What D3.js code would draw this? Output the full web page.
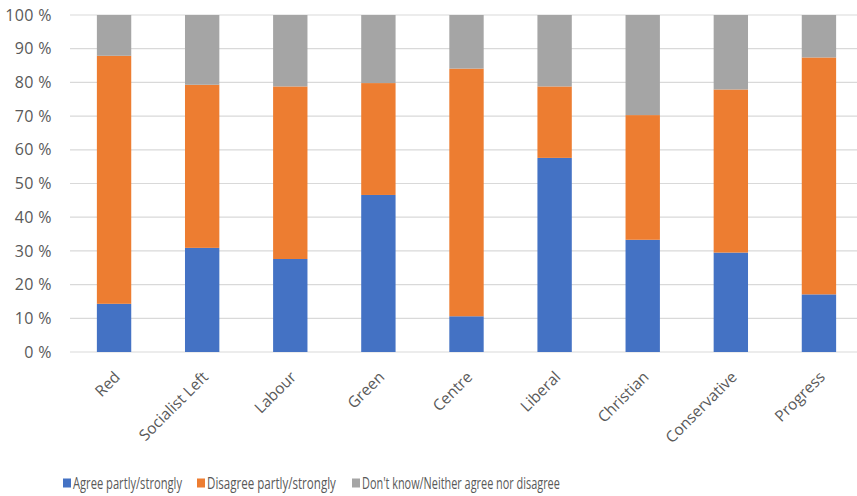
<!DOCTYPE html>
<html>
<head>
<meta charset="utf-8">
<script src="https://cdn.jsdelivr.net/npm/d3@7"></script>
<style>
  html, body { margin: 0; padding: 0; background: #fff; }
  svg { display: block; font-family: "Open Sans", "Noto Sans", sans-serif; }
</style>
</head>
<body>
<svg id="chart" width="857" height="496"></svg>
<script>
// Party names along the x axis
const parties = ["Red", "Socialist Left", "Labour", "Green", "Centre", "Liberal", "Christian", "Conservative", "Progress"];

// Response shares per party (percent)
const agree    = [14.3, 30.9, 27.6, 46.6, 10.6, 57.6, 33.3, 29.5, 17.1];
const disagree = [73.6, 48.4, 51.2, 33.2, 73.5, 21.2, 37.0, 48.4, 70.3];
const dontKnow = [12.1, 20.7, 21.2, 20.2, 15.9, 21.2, 29.7, 22.1, 12.6];

const seriesNames = ["Agree partly/strongly", "Disagree partly/strongly", "Don't know/Neither agree nor disagree"];
const seriesKeys = ["agree", "disagree", "dontKnow"];
const yTicks = [0, 10, 20, 30, 40, 50, 60, 70, 80, 90, 100];

const colors = { agree: "#4472C4", disagree: "#ED7D31", dontKnow: "#A5A5A5" };

const rows = parties.map((p, i) => ({ party: p, agree: agree[i], disagree: disagree[i], dontKnow: dontKnow[i] }));
const stacked = d3.stack().keys(seriesKeys)(rows);

const svg = d3.select("#chart");
const plotLeft = 70, plotRight = 863, plotTop = 15, plotBottom = 352;

const x = d3.scaleBand().domain(parties).range([plotLeft, plotRight]).paddingInner(0.61).paddingOuter(0.305);
const y = d3.scaleLinear().domain([0, 100]).range([plotBottom, plotTop]);

// Gridlines
svg.append("g")
  .selectAll("line")
  .data(yTicks)
  .join("line")
  .attr("x1", plotLeft).attr("x2", 857)
  .attr("y1", d => y(d)).attr("y2", d => y(d))
  .attr("stroke", "#D9D9D9").attr("stroke-width", 1.2);

// Y axis labels
const yAxis = d3.axisLeft(y).tickValues(yTicks).tickFormat(d => d + " %").tickSize(0).tickPadding(18);
const yg = svg.append("g").attr("transform", `translate(${plotLeft},0)`).call(yAxis);
yg.select(".domain").remove();
yg.selectAll("text")
  .attr("fill", "#595959")
  .style("font-size", "16px")
  .style("letter-spacing", "0.4px")
  .style("font-family", "'Open Sans', sans-serif");

// Stacked bars
svg.append("g")
  .selectAll("g")
  .data(stacked)
  .join("g")
  .attr("fill", d => colors[d.key])
  .selectAll("rect")
  .data(d => d)
  .join("rect")
  .attr("x", d => x(d.data.party))
  .attr("width", x.bandwidth())
  .attr("y", d => y(d[1]))
  .attr("height", d => y(d[0]) - y(d[1]));

// X axis labels, rotated
const xAxis = d3.axisBottom(x).tickSize(0).tickPadding(0);
const xg = svg.append("g").attr("transform", `translate(0,${plotBottom})`).call(xAxis);
xg.select(".domain").remove();
xg.selectAll("text")
  .attr("fill", "#595959")
  .style("font-size", "15.5px")
  .style("font-family", "'Open Sans', sans-serif")
  .attr("text-anchor", "end")
  .attr("dy", null)
  .attr("transform", "translate(7,26) rotate(-45)");

// Legend: condensed labels, squeezed horizontally to fit their slots
const legendX = [63, 197, 352];
const legendTextWidth = [109, 129, 198];
const legend = svg.append("g")
  .selectAll("g")
  .data(seriesKeys)
  .join("g")
  .attr("transform", (d, i) => `translate(${legendX[i]},483)`);
legend.append("rect")
  .attr("x", 0).attr("y", -4.5).attr("width", 8).attr("height", 9)
  .attr("fill", d => colors[d]);
legend.append("text")
  .attr("x", 0).attr("y", 0).attr("dy", "0.35em")
  .attr("fill", "#595959")
  .style("font-size", "16.5px")
  .text((d, i) => seriesNames[i])
  .each(function (d, i) {
    const natural = this.getComputedTextLength();
    const sx = legendTextWidth[i] / natural;
    d3.select(this).attr("transform", `translate(10,0) scale(${sx},1)`);
  });
</script>
</body>
</html>
